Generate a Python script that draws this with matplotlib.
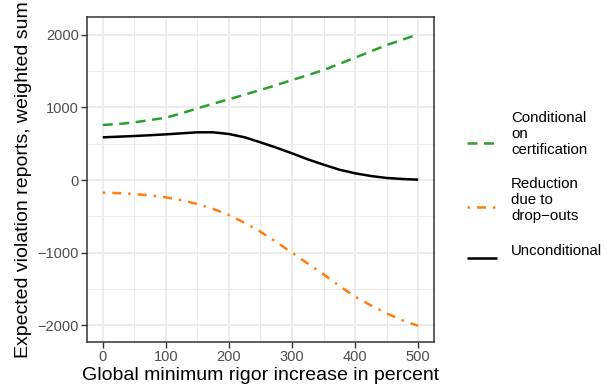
import matplotlib.pyplot as plt
from matplotlib.lines import Line2D

plt.rcParams['font.family'] = ['Liberation Sans', 'DejaVu Sans']

# rigor increase in percent
rigor = [0, 25, 50, 75, 100, 125, 150, 175, 200, 225, 250,
         275, 300, 325, 350, 375, 400, 425, 450, 475, 500]
conditional = [757, 770, 793, 825, 857, 917, 986, 1050, 1110, 1175, 1238,
               1305, 1375, 1442, 1513, 1597, 1683, 1770, 1857, 1930, 2005]
reduction = [-174, -180, -193, -212, -238, -278, -330, -398, -481, -590, -711,
             -852, -1000, -1150, -1297, -1455, -1605, -1725, -1834, -1930, -2005]
unconditional = [587, 596, 605, 616, 628, 642, 656, 656, 633, 587, 518,
                 445, 367, 284, 211, 142, 92, 55, 28, 14, 5]

labels = ["Conditional\non\ncertification", "Reduction\ndue to\ndrop\u2212outs", "Unconditional"]
colors = ["#2ca02c", "#ff7f0e", "black"]
dashes = [(4, 2.6), (1, 2.8, 3.6, 2.8), None]

W, H = 613, 391
fig = plt.figure(figsize=(W / 100, H / 100), dpi=100)
ax = fig.add_axes([87 / W, 1 - 342 / H, (434 - 87) / W, (342 - 17) / H])

lw = 1.8
for y, c, d in zip([conditional, reduction, unconditional], colors, dashes):
    line, = ax.plot(rigor, y, color=c, lw=lw, solid_capstyle="butt",
                    dash_capstyle="butt", solid_joinstyle="round")
    if d:
        line.set_dashes(d)

ax.set_xlim(-25, 525)
ax.set_ylim(-2228, 2242)
ax.set_xticks(range(0, 501, 100))
ax.set_xticks(range(50, 500, 100), minor=True)
ax.set_yticks([-2000, -1000, 0, 1000, 2000])
ax.set_yticks([-1500, -500, 500, 1500], minor=True)
ax.set_yticklabels(["\u22122000", "\u22121000", "0", "1000", "2000"])
ax.grid(which="major", color="#EBEBEB", lw=1.3)
ax.grid(which="minor", color="#EBEBEB", lw=0.7)
ax.set_axisbelow(True)
for s in ax.spines.values():
    s.set_color("#333333")
    s.set_linewidth(1.1)
ax.tick_params(which="major", length=4, width=1.0, color="#333333",
               labelcolor="#4D4D4D", labelsize=10.5, pad=2)
ax.tick_params(which="minor", length=0)

ax.set_xlabel("Global minimum rigor increase in percent", fontsize=14, labelpad=2)
ax.set_ylabel("Expected violation reports, weighted sum", fontsize=14, labelpad=4)

# legend drawn by hand, keys on the left, labels on the right
key_y = [143, 207, 258]
text_y = [134, 200, 251]
for ky, ty, lab, c, d in zip(key_y, text_y, labels, colors, dashes):
    key = Line2D([467 / W, 497 / W], [1 - ky / H, 1 - ky / H], transform=fig.transFigure,
                 color=c, lw=lw, solid_capstyle="butt", dash_capstyle="butt")
    if d:
        key.set_dashes(d)
    fig.add_artist(key)
    fig.text(511 / W, 1 - ty / H, lab, fontsize=10.8, va="center", ha="left",
             linespacing=1.15)

fig.savefig("out.png", dpi=100)
